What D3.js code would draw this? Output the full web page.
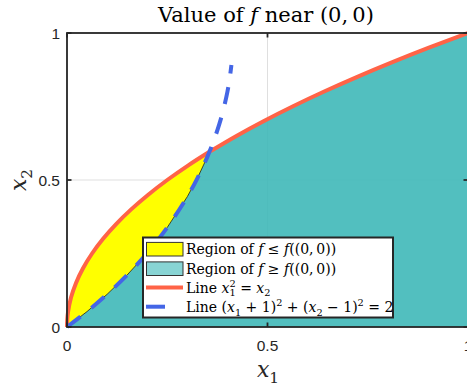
<!DOCTYPE html>
<html><head><meta charset="utf-8">
<script src="https://cdn.jsdelivr.net/npm/d3@7"></script>
<style>body{margin:0;background:#fff}svg{display:block}</style>
</head><body>
<svg id="c" width="467" height="388"></svg>
<script>
// ---- data ----
const xTicks = [0, 0.5, 1];
const yTicks = [0, 0.5, 1];
const xTickLabels = ["0", "0.5", "1"];
const yTickLabels = ["0", "0.5", "1"];
// red line x1^2 = x2
const redX1 = [0, 0.000625, 0.0025, 0.01, 0.0225, 0.04, 0.0625, 0.09, 0.1225, 0.16, 0.2025, 0.25, 0.3025, 0.3553, 0.36, 0.4225, 0.49, 0.5625, 0.64, 0.7225, 0.81, 0.9025, 1];
const redX2 = [0, 0.025, 0.05, 0.1, 0.15, 0.2, 0.25, 0.3, 0.35, 0.4, 0.45, 0.5, 0.55, 0.5961, 0.6, 0.65, 0.7, 0.75, 0.8, 0.85, 0.9, 0.95, 1];
// blue dashed line (x1+1)^2 + (x2-1)^2 = 2
const blueX1 = [0, 0.05, 0.1, 0.15, 0.2, 0.25, 0.3, 0.325, 0.35, 0.3553, 0.36, 0.37, 0.38, 0.39, 0.4, 0.405, 0.41];
const blueX2 = [0, 0.0526, 0.1112, 0.1769, 0.2517, 0.3386, 0.4432, 0.5057, 0.5787, 0.5961, 0.6122, 0.6491, 0.6908, 0.7394, 0.8, 0.8388, 0.8909];
const crossX1 = 0.3553;
const legendLabels = ["yellow", "teal", "red", "blue"];

// ---- layout ----
const L = 67, R = 468, T = 33, B = 327;
const svg = d3.select("#c");
const x = d3.scaleLinear().domain([0, 1]).range([L, R]);
const y = d3.scaleLinear().domain([0, 1]).range([B, T]);
const axisCol = "#262626";
const serif = "'DejaVu Serif', serif";
const sans = "'Liberation Sans', Arial, sans-serif";

const redPts = redX1.map((v, i) => [v, redX2[i]]);
const bluePts = blueX1.map((v, i) => [v, blueX2[i]]);

// grid
const g = svg.append("g");
g.selectAll(".gx").data(xTicks).join("line")
  .attr("x1", d => x(d)).attr("x2", d => x(d)).attr("y1", T).attr("y2", B)
  .attr("stroke", "#dfdfdf").attr("stroke-width", 1);
g.selectAll(".gy").data(yTicks).join("line")
  .attr("y1", d => y(d)).attr("y2", d => y(d)).attr("x1", L).attr("x2", R)
  .attr("stroke", "#dfdfdf").attr("stroke-width", 1);

const lin = d3.line().x(d => x(d[0])).y(d => y(d[1]));
const smooth = d3.line().x(d => x(d[0])).y(d => y(d[1])).curve(d3.curveCatmullRom);

// teal region
const tealPoly = bluePts.filter(p => p[0] <= crossX1)
  .concat(redPts.filter(p => p[0] > crossX1))
  .concat([[1, 0], [0, 0]]);
svg.append("path").attr("d", lin(tealPoly) + "Z")
  .attr("fill", "rgb(63,184,184)").attr("fill-opacity", 0.9).attr("stroke", "none");

// yellow region
const yellowPoly = redPts.filter(p => p[0] <= crossX1)
  .concat(bluePts.filter(p => p[0] < crossX1).reverse());
svg.append("path").attr("d", lin(yellowPoly) + "Z")
  .attr("fill", "#ffff00").attr("stroke", "#000").attr("stroke-width", 0.7);

// red line
svg.append("path").attr("d", smooth(redPts))
  .attr("fill", "none").attr("stroke", "#ff6347").attr("stroke-width", 4);
// blue dashed line
svg.append("path").attr("d", smooth(bluePts))
  .attr("fill", "none").attr("stroke", "#4466e6").attr("stroke-width", 4)
  .attr("stroke-dasharray", "17,14");

// axes box
svg.append("rect").attr("x", L).attr("y", T).attr("width", R - L).attr("height", B - T)
  .attr("fill", "none").attr("stroke", axisCol).attr("stroke-width", 1.8);
// ticks (inward)
const tl = 4.5;
xTicks.forEach(t => {
  svg.append("line").attr("x1", x(t)).attr("x2", x(t)).attr("y1", B).attr("y2", B - tl).attr("stroke", axisCol).attr("stroke-width", 1.8);
  svg.append("line").attr("x1", x(t)).attr("x2", x(t)).attr("y1", T).attr("y2", T + tl).attr("stroke", axisCol).attr("stroke-width", 1.8);
});
yTicks.forEach(t => {
  svg.append("line").attr("y1", y(t)).attr("y2", y(t)).attr("x1", L).attr("x2", L + tl).attr("stroke", axisCol).attr("stroke-width", 1.8);
  svg.append("line").attr("y1", y(t)).attr("y2", y(t)).attr("x1", R).attr("x2", R - tl).attr("stroke", axisCol).attr("stroke-width", 1.8);
});
// tick labels
svg.selectAll(".xt").data(xTicks).join("text")
  .attr("x", d => x(d)).attr("y", 351).attr("text-anchor", "middle")
  .style("font-family", sans).style("font-size", "15.5px").attr("fill", axisCol)
  .text((d, i) => xTickLabels[i]);
svg.selectAll(".yt").data(yTicks).join("text")
  .attr("x", 60).attr("y", d => y(d) + 5.5).attr("text-anchor", "end")
  .style("font-family", sans).style("font-size", "15.5px").attr("fill", axisCol)
  .text((d, i) => yTickLabels[i]);

// rich text helper
function rich(sel, segs, fs) {
  let cur = 0;
  segs.forEach(s => {
    const off = s.sub ? 0.28 * fs : s.sup ? -0.42 * fs : 0;
    const ts = sel.append("tspan").text(s.t)
      .attr("dy", off - cur)
      .style("font-size", ((s.sub || s.sup) ? 0.7 * fs : fs) + "px")
      .style("font-style", s.it ? "italic" : "normal");
    if (s.dx) ts.attr("dx", s.dx);
    cur = off;
  });
}

// title
const title = svg.append("text").attr("x", 266).attr("y", 22).attr("text-anchor", "middle")
  .style("font-family", serif).attr("fill", "#000");
rich(title, [{t: "Value of "}, {t: "f", it: true}, {t: " near (0,\u20090)"}], 21);

// axis labels
const xl = svg.append("text").attr("x", 268).attr("y", 377).attr("text-anchor", "middle")
  .style("font-family", serif).attr("fill", axisCol);
rich(xl, [{t: "x", it: true}, {t: "1", sub: true}], 22);
const yl = svg.append("text").attr("transform", "translate(26,180) rotate(-90)").attr("text-anchor", "middle")
  .style("font-family", serif).attr("fill", axisCol);
rich(yl, [{t: "x", it: true}, {t: "2", sub: true}], 22);

// legend
const lg = svg.append("g");
lg.append("rect").attr("x", 143).attr("y", 237.5).attr("width", 250).attr("height", 80)
  .attr("fill", "#fff").attr("stroke", axisCol).attr("stroke-width", 2);
const rows = [249.2, 268.7, 287.5, 306.7];
lg.append("rect").attr("x", 146.5).attr("y", rows[0] - 6.8).attr("width", 36.5).attr("height", 13.6)
  .attr("fill", "#ffff00").attr("stroke", "#333").attr("stroke-width", 1);
lg.append("rect").attr("x", 146.5).attr("y", rows[1] - 6.8).attr("width", 36.5).attr("height", 13.6)
  .attr("fill", "#88d4d4").attr("stroke", "#333").attr("stroke-width", 1);
lg.append("line").attr("x1", 146).attr("x2", 183).attr("y1", rows[2]).attr("y2", rows[2])
  .attr("stroke", "#ff6347").attr("stroke-width", 4);
lg.append("line").attr("x1", 146).attr("x2", 183).attr("y1", rows[3]).attr("y2", rows[3])
  .attr("stroke", "#4466e6").attr("stroke-width", 4).attr("stroke-dasharray", "19,30");
const fsL = 14;
const legTexts = [
  [{t: "Region of "}, {t: "f", it: true}, {t: " \u2264 "}, {t: "f", it: true}, {t: "((0,\u20090))"}],
  [{t: "Region of "}, {t: "f", it: true}, {t: " \u2265 "}, {t: "f", it: true}, {t: "((0,\u20090))"}],
  [{t: "Line "}, {t: "x", it: true}, {t: "1", sub: true}, {t: "2", sup: true, dx: -6.2}, {t: " = "}, {t: "x", it: true}, {t: "2", sub: true}],
  [{t: "Line ("}, {t: "x", it: true}, {t: "1", sub: true}, {t: " + 1)"}, {t: "2", sup: true}, {t: " + ("}, {t: "x", it: true}, {t: "2", sub: true}, {t: " \u2212 1)"}, {t: "2", sup: true}, {t: " = 2"}]
];
legTexts.forEach((segs, i) => {
  const t = lg.append("text").attr("x", 186).attr("y", rows[i] + 5)
    .style("font-family", serif).attr("fill", "#000").attr("data-label", legendLabels[i]);
  rich(t, segs, fsL);
});
</script>
</body></html>
